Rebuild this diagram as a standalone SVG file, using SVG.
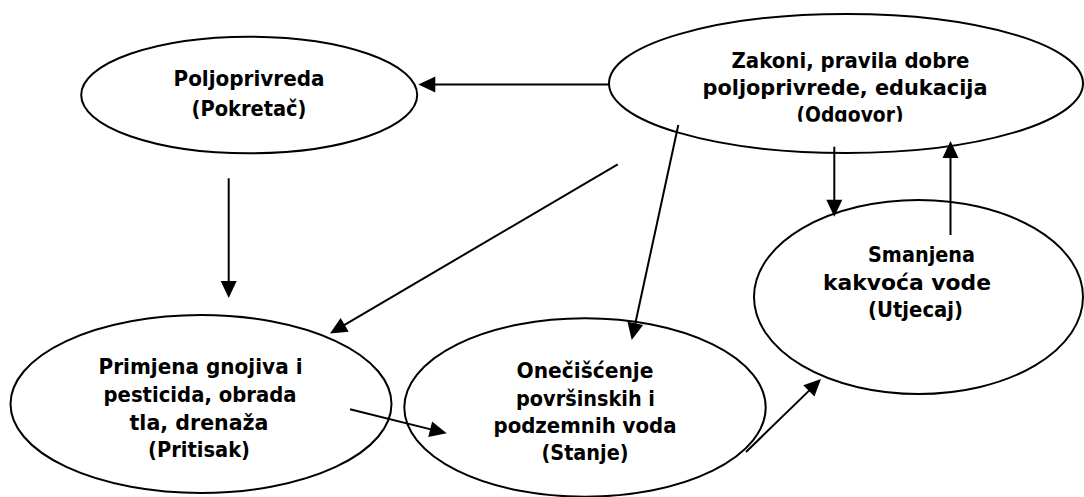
<svg xmlns="http://www.w3.org/2000/svg" width="1084" height="497" viewBox="0 0 1084 497">
<style>
.node ellipse{fill:#fff;stroke:#000;stroke-width:2}
.node text{font-family:"DejaVu Sans",Verdana,sans-serif;font-weight:bold;font-size:21.5px;fill:#000;text-anchor:middle}
.conn line{stroke:#000;stroke-width:2;fill:none;marker-end:url(#ah)}
</style>
<defs>
<marker id="ah" markerUnits="userSpaceOnUse" markerWidth="17" markerHeight="16" refX="9" refY="8" orient="auto" overflow="visible">
<path d="M0,0 L17,8 L0,16 z" fill="#000"/>
</marker>
<clipPath id="clipOdg"><rect x="600" y="0" width="484" height="121.7"/></clipPath>
<clipPath id="clipPri"><rect x="0" y="300" width="400" height="161"/></clipPath>
</defs>
<rect width="1084" height="497" fill="#fff"/>
<g id="node-pokretac" class="node">
<ellipse cx="249.2" cy="95" rx="168" ry="58.3"/>
<text x="249" y="86" textLength="151" lengthAdjust="spacingAndGlyphs">Poljoprivreda</text>
<text x="249" y="116" textLength="115" lengthAdjust="spacingAndGlyphs">(Pokretač)</text>
</g>
<g id="node-odgovor" class="node">
<ellipse cx="846" cy="83.5" rx="237" ry="69.5"/>
<text x="850.5" y="68.3" textLength="238" lengthAdjust="spacingAndGlyphs">Zakoni, pravila dobre</text>
<text x="845" y="95" textLength="285" lengthAdjust="spacingAndGlyphs">poljoprivrede, edukacija</text>
<text x="850" y="122" clip-path="url(#clipOdg)" textLength="107" lengthAdjust="spacingAndGlyphs">(Odgovor)</text>
</g>
<g id="node-utjecaj" class="node">
<ellipse cx="918.5" cy="297" rx="164.5" ry="97"/>
<text x="921.5" y="262" textLength="107" lengthAdjust="spacingAndGlyphs">Smanjena</text>
<text x="907" y="290" textLength="168" lengthAdjust="spacingAndGlyphs">kakvoća vode</text>
<text x="915.5" y="317" textLength="95" lengthAdjust="spacingAndGlyphs">(Utjecaj)</text>
</g>
<g id="node-pritisak" class="node">
<ellipse cx="201" cy="404" rx="190.5" ry="89"/>
<text x="200.5" y="374.3" textLength="204" lengthAdjust="spacingAndGlyphs">Primjena gnojiva i</text>
<text x="200" y="402" textLength="193" lengthAdjust="spacingAndGlyphs">pesticida, obrada</text>
<text x="199" y="429.5" textLength="139" lengthAdjust="spacingAndGlyphs">tla, drenaža</text>
<text x="199" y="457" clip-path="url(#clipPri)" textLength="102" lengthAdjust="spacingAndGlyphs">(Pritisak)</text>
</g>
<g id="node-stanje" class="node">
<ellipse cx="585" cy="407.5" rx="180.7" ry="89.2"/>
<text x="585" y="377.5" textLength="137" lengthAdjust="spacingAndGlyphs">Onečišćenje</text>
<text x="585.5" y="405.5" textLength="139" lengthAdjust="spacingAndGlyphs">površinskih i</text>
<text x="585" y="432.5" textLength="183" lengthAdjust="spacingAndGlyphs">podzemnih voda</text>
<text x="585" y="459.5" textLength="87" lengthAdjust="spacingAndGlyphs">(Stanje)</text>
</g>
<g id="connectors" class="conn">
<line x1="609" y1="84.5" x2="426.3" y2="84.5"/>
<line x1="228.7" y1="178.3" x2="228.7" y2="290"/>
<line x1="617.7" y1="164.3" x2="336.9" y2="329.4"/>
<line x1="678.3" y1="125" x2="633.4" y2="332.2"/>
<line x1="834.3" y1="146.7" x2="834.3" y2="208.7"/>
<line x1="950.5" y1="235" x2="950.5" y2="149"/>
<line x1="350" y1="409.3" x2="438.9" y2="431.4"/>
<line x1="746" y1="452" x2="815.3" y2="384.6"/>
</g>
</svg>
